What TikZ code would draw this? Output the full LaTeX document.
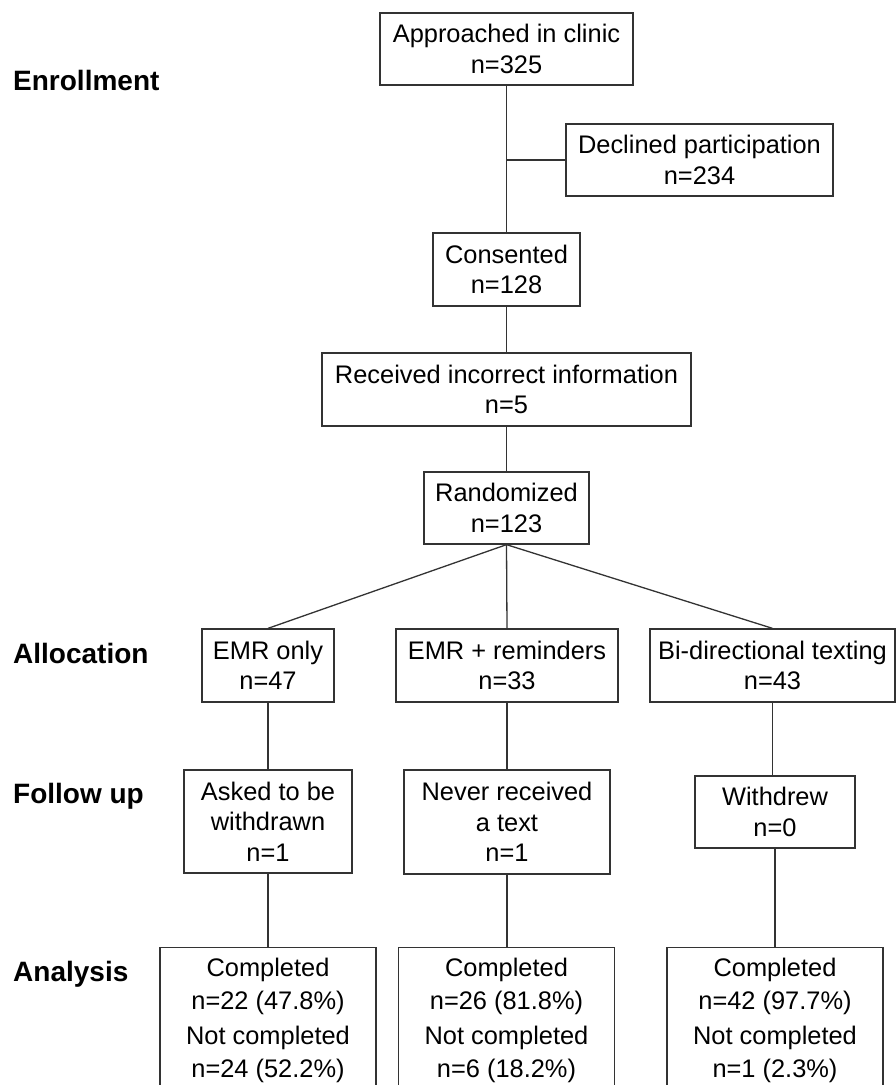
\documentclass[tikz,border=0pt]{standalone}
\usepackage{fontspec}
\setmainfont{Liberation Sans}
\begin{document}
\begin{tikzpicture}[x=1pt,y=-1pt,
  box/.style={draw=black!80, line width=1.3pt, inner sep=0pt, align=center,
    font=\fontsize{25.4}{30.5}\selectfont, text=black},
  abox/.style={box, anchor=north, inner xsep=0pt, inner ysep=10pt,
    minimum width=216pt, font=\fontsize{25.4}{33}\selectfont},
  lab/.style={anchor=base west, inner sep=0pt, font=\fontsize{28}{30}\selectfont\bfseries, text=black},
  conn/.style={draw=black!80, line width=1.3pt}]
\useasboundingbox (0,0) rectangle (896,1085);
\clip (0,0) rectangle (896,1085);
% stage labels
\node[lab] (lenr) at (13,90) {Enrollment};
\node[lab] (lall) at (13,663) {Allocation};
\node[lab] (lfol) at (13,803) {Follow up};
\node[lab] (lana) at (13,981) {Analysis};
% enrollment
\node[box, minimum width=253pt, minimum height=72pt] (appr) at (506.5,49) {Approached in clinic\\n=325};
\node[box, minimum width=267pt, minimum height=72pt] (decl) at (699.5,160) {Declined participation\\n=234};
\node[box, minimum width=147pt, minimum height=73pt] (cons) at (506.5,269.5) {Consented\\n=128};
\node[box, minimum width=369pt, minimum height=73pt] (recv) at (506.5,389.5) {Received incorrect information\\n=5};
\node[box, minimum width=165pt, minimum height=72pt] (rand) at (506.5,508) {Randomized\\n=123};
% allocation
\node[box, minimum width=132pt, minimum height=73pt] (emr) at (268,665.5) {EMR only\\n=47};
\node[box, minimum width=222pt, minimum height=73pt] (rem) at (507,665.5) {EMR + reminders\\n=33};
\node[box, minimum width=245pt, minimum height=73pt] (bidi) at (772.5,665.5) {Bi-directional texting\\n=43};
% follow up
\node[box, minimum width=168pt, minimum height=103pt] (ask) at (268,821.5) {Asked to be\\withdrawn\\n=1};
\node[box, minimum width=206pt, minimum height=104pt] (nev) at (507,822) {Never received\\a text\\n=1};
\node[box, minimum width=160pt, minimum height=72pt] (wdr) at (775,812) {Withdrew\\n=0};
% analysis
\node[abox] (an1) at (268,947) {Completed\\n=22 (47.8\%)\\[2pt]Not completed\\n=24 (52.2\%)};
\node[abox] (an2) at (506.5,947) {Completed\\n=26 (81.8\%)\\[2pt]Not completed\\n=6 (18.2\%)};
\node[abox] (an3) at (775,947) {Completed\\n=42 (97.7\%)\\[2pt]Not completed\\n=1 (2.3\%)};
% connectors
\draw[conn] (appr.south) -- (cons.north);
\draw[conn] (appr.south |- decl.west) -- (decl.west);
\draw[conn] (cons.south) -- (recv.north);
\draw[conn] (recv.south) -- (rand.north);
\draw[conn] (rand.south) -- (emr.north);
\draw[conn] (rand.south) -- (rem.north);
\draw[conn] (rand.south) -- (bidi.north);
\draw[conn] (emr.south) -- (ask.north);
\draw[conn] (rem.south) -- (nev.north);
\draw[conn] (bidi.south) -- (bidi.south |- wdr.north);
\draw[conn] (ask.south) -- (an1.north);
\draw[conn] (nev.south) -- (nev.south |- an2.north);
\draw[conn] (wdr.south) -- (an3.north);
\end{tikzpicture}
\end{document}
